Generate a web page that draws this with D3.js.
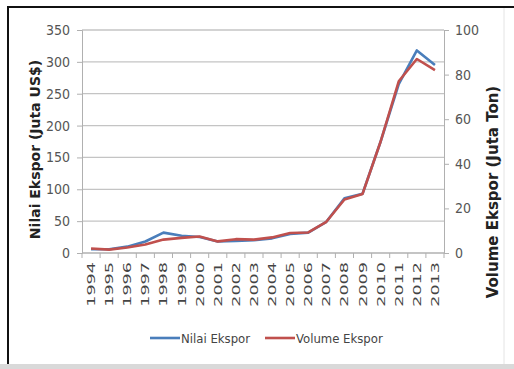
<!DOCTYPE html>
<html>
<head>
<meta charset="utf-8">
<script src="https://cdn.jsdelivr.net/npm/d3@7/dist/d3.min.js"></script>
<style>
  html, body { margin: 0; padding: 0; background: #fff; }
  svg { display: block; }
  .narrow { font-family: 'DejaVu Sans', sans-serif; font-stretch: condensed; }
</style>
</head>
<body>
<svg id="chart" width="514" height="369"></svg>
<script>
// Export data 1994–2013
const years = ["1994","1995","1996","1997","1998","1999","2000","2001","2002","2003",
               "2004","2005","2006","2007","2008","2009","2010","2011","2012","2013"];
// Nilai Ekspor (Juta US$) – left axis
const nilaiEkspor = [6, 6, 10, 18, 32, 27, 25, 18, 19, 20,
                     23, 30, 32, 49, 86, 93, 175, 265, 318, 295];
// Volume Ekspor (Juta Ton) – right axis
const volumeEkspor = [2, 1.5, 2.5, 3.8, 6, 6.8, 7.4, 5.2, 6.2, 6,
                      7, 9, 9.2, 14, 24, 26.5, 50, 77, 87, 82];
const leftTicks = [0, 50, 100, 150, 200, 250, 300, 350];
const rightTicks = [0, 20, 40, 60, 80, 100];
const seriesNames = ["Nilai Ekspor", "Volume Ekspor"];

const svg = d3.select("#chart");

// frame
svg.append("rect").attr("x", 0).attr("y", 364).attr("width", 514).attr("height", 5).attr("fill", "#d9d9d9");
svg.append("line").attr("x1", 504).attr("x2", 504).attr("y1", 8).attr("y2", 364)
  .attr("stroke", "#e4e4e4").attr("stroke-width", 1);
svg.append("line").attr("x1", 7).attr("x2", 514).attr("y1", 7).attr("y2", 7)
  .attr("stroke", "#111").attr("stroke-width", 2);
svg.append("line").attr("x1", 8).attr("x2", 8).attr("y1", 6).attr("y2", 364)
  .attr("stroke", "#111").attr("stroke-width", 2);

const plot = { left: 82, right: 444, top: 30, bottom: 253 };

const x = d3.scaleBand().domain(years).range([plot.left, plot.right]);
const yL = d3.scaleLinear().domain([0, 350]).range([plot.bottom, plot.top]);
const yR = d3.scaleLinear().domain([0, 100]).range([plot.bottom, plot.top]);
const cx = d => x(d) + x.bandwidth() / 2;

// horizontal gridlines
svg.append("g").selectAll("line").data(leftTicks.filter(t => t > 0)).join("line")
  .attr("x1", plot.left).attr("x2", plot.right)
  .attr("y1", d => yL(d)).attr("y2", d => yL(d))
  .attr("stroke", "#c4c4c4").attr("stroke-width", 1.3);

// left axis
const gL = svg.append("g").attr("transform", `translate(${plot.left},0)`)
  .call(d3.axisLeft(yL).tickValues(leftTicks).tickSize(5).tickPadding(7));
gL.select(".domain").attr("stroke", "#b0b0b0");
gL.selectAll(".tick line").attr("stroke", "#b0b0b0");
gL.selectAll("text").attr("font-family", null).attr("class", "narrow")
  .attr("font-size", 14).attr("fill", "#555");

// right axis
const gR = svg.append("g").attr("transform", `translate(${plot.right},0)`)
  .call(d3.axisRight(yR).tickValues(rightTicks).tickSize(5).tickPadding(6));
gR.select(".domain").attr("stroke", "#b0b0b0");
gR.selectAll(".tick line").attr("stroke", "#b0b0b0");
gR.selectAll("text").attr("font-family", null).attr("class", "narrow")
  .attr("font-size", 14).attr("fill", "#555");

// bottom axis
svg.append("line").attr("x1", plot.left).attr("x2", plot.right)
  .attr("y1", plot.bottom).attr("y2", plot.bottom).attr("stroke", "#b0b0b0").attr("stroke-width", 1.3);
svg.append("g").selectAll("line").data(years.concat(["end"])).join("line")
  .attr("x1", (d, i) => plot.left + i * x.step()).attr("x2", (d, i) => plot.left + i * x.step())
  .attr("y1", plot.bottom).attr("y2", plot.bottom + 5).attr("stroke", "#b0b0b0");
svg.append("g").selectAll("text").data(years).join("text")
  .attr("transform", d => `translate(${cx(d) + 4},262) rotate(-90) scale(1.6,1)`)
  .attr("text-anchor", "end")
  .attr("font-family", "'DejaVu Sans', sans-serif").attr("font-size", 11).attr("fill", "#444")
  .text(d => d);

// axis titles
svg.append("text")
  .attr("transform", `translate(40,${(plot.top + plot.bottom) / 2 + 8}) rotate(-90)`)
  .attr("text-anchor", "middle").attr("font-family", "'DejaVu Sans', sans-serif")
  .attr("font-weight", "bold").attr("font-size", 14).attr("fill", "#222")
  .text("Nilai Ekspor (Juta US$)");
svg.append("text")
  .attr("transform", `translate(498,192) rotate(-90)`)
  .attr("text-anchor", "middle").attr("font-family", "'DejaVu Sans', sans-serif")
  .attr("font-weight", "bold").attr("font-size", 15).attr("fill", "#222")
  .text("Volume Ekspor (Juta Ton)");

// series lines
const lineL = d3.line().x((d, i) => cx(years[i])).y(d => yL(d));
const lineR = d3.line().x((d, i) => cx(years[i])).y(d => yR(d));
svg.append("path").datum(nilaiEkspor).attr("d", lineL)
  .attr("fill", "none").attr("stroke", "#4a7ebb").attr("stroke-width", 2.6)
  .attr("stroke-linejoin", "round");
svg.append("path").datum(volumeEkspor).attr("d", lineR)
  .attr("fill", "none").attr("stroke", "#c0504d").attr("stroke-width", 2.6)
  .attr("stroke-linejoin", "round");

// legend
const legend = [
  { name: seriesNames[0], color: "#4a7ebb", x: 150 },
  { name: seriesNames[1], color: "#c0504d", x: 265 }
];
const lg = svg.append("g").selectAll("g").data(legend).join("g")
  .attr("transform", d => `translate(${d.x},338)`);
lg.append("line").attr("x1", 0).attr("x2", 30).attr("y1", 0).attr("y2", 0)
  .attr("stroke", d => d.color).attr("stroke-width", 2.6);
lg.append("text").attr("x", 31).attr("y", 5).attr("class", "narrow")
  .attr("font-size", 13).attr("fill", "#444")
  .text(d => d.name);
</script>
</body>
</html>
